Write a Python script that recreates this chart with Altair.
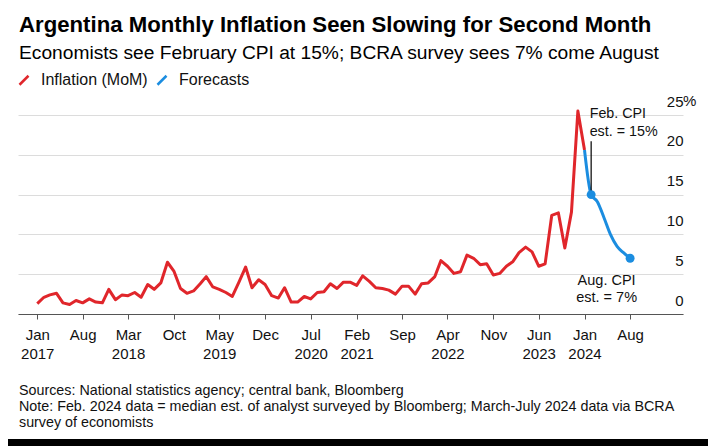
import altair as alt
import pandas as pd

TITLE = "Argentina Monthly Inflation Seen Slowing for Second Month"
SUBTITLE = "Economists see February CPI at 15%; BCRA survey sees 7% come August"
FOOTER = [
    "Sources: National statistics agency; central bank, Bloomberg",
    "Note: Feb. 2024 data = median est. of analyst surveyed by Bloomberg; March-July 2024 data via BCRA",
    "survey of economists",
]
SERIES = ["Inflation (MoM)", "Forecasts"]
COLORS = ["#e0262b", "#1b8de0"]

# Monthly CPI change (%), Jan 2017 .. Jan 2024
inflation_start = "2017-01-01"
inflation = [
    1.3, 2.1, 2.4, 2.6, 1.4, 1.2, 1.7, 1.4, 1.9, 1.5, 1.4, 3.1,
    1.8, 2.4, 2.3, 2.7, 2.1, 3.7, 3.1, 3.9, 6.5, 5.4, 3.2, 2.6,
    2.9, 3.8, 4.7, 3.4, 3.1, 2.7, 2.2, 4.0, 5.9, 3.3, 4.3, 3.7,
    2.3, 2.0, 3.3, 1.5, 1.5, 2.2, 1.9, 2.7, 2.8, 3.8, 3.2, 4.0,
    4.0, 3.6, 4.8, 4.1, 3.3, 3.2, 3.0, 2.5, 3.5, 3.5, 2.5, 3.8,
    3.9, 4.7, 6.7, 6.0, 5.1, 5.3, 7.4, 7.0, 6.2, 6.3, 4.9, 5.1,
    6.0, 6.6, 7.7, 8.4, 7.8, 6.0, 6.3, 12.4, 12.7, 8.3, 12.8, 25.5,
    20.6,
]
# Forecasts, Jan 2024 .. Aug 2024
forecast_start = "2024-01-01"
forecast = [20.6, 15.0, 14.1, 12.1, 10.0, 8.5, 7.7, 7.0]

# Axis ticks
x_ticks = ["2017-01", "2017-08", "2018-03", "2018-10", "2019-05", "2019-12", "2020-07",
           "2021-02", "2021-09", "2022-04", "2022-11", "2023-06", "2024-01", "2024-08"]
x_ticks_with_year = ["2017-01", "2018-03", "2019-05", "2020-07", "2021-02", "2022-04",
                     "2023-06", "2024-01"]
y_ticks = [0, 5, 10, 15, 20, 25]

# Annotations
feb_label = ["Feb. CPI", "est. = 15%"]
aug_label = ["Aug. CPI", "est. = 7%"]

FONT = "Liberation Sans"

df_inf = pd.DataFrame({
    "date": pd.date_range(inflation_start, periods=len(inflation), freq="MS").strftime("%Y-%m-%d"),
    "value": inflation,
    "series": SERIES[0],
})
df_fc = pd.DataFrame({
    "date": pd.date_range(forecast_start, periods=len(forecast), freq="MS").strftime("%Y-%m-%d"),
    "value": forecast,
    "series": SERIES[1],
})
df_pts = df_fc[df_fc["date"].isin(["2024-02-01", "2024-08-01"])]

year_list = ",".join("'%s'" % t for t in x_ticks_with_year)
label_expr = ("[utcFormat(datum.value, '%b'), indexof([" + year_list +
              "], utcFormat(datum.value, '%Y-%m')) >= 0 ? utcFormat(datum.value, '%Y') : '']")

x_scale = alt.Scale(type="utc", nice=False,
                    domain=[alt.DateTime(year=2016, month=10, date=3, utc=True),
                            alt.DateTime(year=2025, month=4, date=5, utc=True)])
x_axis = alt.Axis(
    values=[alt.DateTime(year=int(t[:4]), month=int(t[5:]), date=1, utc=True) for t in x_ticks],
    labelExpr=label_expr, title=None, grid=False, domainColor="#555555", tickColor="#555555",
    tickSize=5, labelFontSize=15, labelFont=FONT, labelColor="#111111", labelPadding=8,
    labelLineHeight=19.5, labelOverlap=False, labelFlush=False,
)
y_scale = alt.Scale(domain=[0, 25], nice=False)
y_axis = alt.Axis(
    orient="right", values=y_ticks, grid=True, gridColor="#dcdcdc", gridWidth=1, domain=False,
    ticks=False, tickSize=0, labelAlign="right", labelBaseline="alphabetic", labelOffset=-9,
    labelPadding=0, labelFontSize=15, labelFont=FONT, labelColor="#111111", title=None,
)


def X(field="date"):
    return alt.X(field + ":T", scale=x_scale, axis=x_axis)


def Y(field="value"):
    return alt.Y(field + ":Q", scale=y_scale, axis=y_axis)


color = alt.Color(
    "series:N", scale=alt.Scale(domain=SERIES, range=COLORS),
    legend=alt.Legend(
        title=None, orient="none", legendX=-2, legendY=-43, direction="horizontal",
        symbolType="M-1,1L1,-1", symbolSize=81, symbolStrokeWidth=2.5,
        labelFontSize=16, labelFont=FONT, labelColor="#111111", labelOffset=9,
        columnPadding=4, padding=0,
    ),
)

one = pd.DataFrame({"a": [0]})

# outer black frame (bottom edge of the window)
border_b = alt.Chart(one).mark_rect(color="black").encode(
    x=alt.value(-10), x2=alt.value(690), y=alt.value(324), y2=alt.value(335))

red = alt.Chart(df_inf).mark_line(strokeWidth=3, strokeJoin="round").encode(x=X(), y=Y(), color=color)
blue = alt.Chart(df_fc).mark_line(strokeWidth=3, strokeJoin="round", interpolate="monotone").encode(
    x=X(), y=Y(), color=color)
pts = alt.Chart(df_pts).mark_circle(size=80, opacity=1, color=COLORS[1]).encode(x=X(), y=Y())

rule_df = pd.DataFrame({"date": ["2024-02-01"], "value": [15.0], "value2": [21.7]})
rule = alt.Chart(rule_df).mark_rule(color="black", strokeWidth=1.2).encode(
    x=X(), y=Y(), y2="value2:Q")

feb_df = pd.DataFrame({"date": ["2024-02-01"], "value": [24.67]})
feb_txt = alt.Chart(feb_df).mark_text(
    text=feb_label, align="left", baseline="alphabetic", fontSize=14.3, lineHeight=18,
    font=FONT, color="#111111", dx=-1.5).encode(x=X(), y=Y())

aug_df = pd.DataFrame({"date": ["2024-08-01"], "value": [3.63]})
aug_txt = alt.Chart(aug_df).mark_text(
    text=aug_label, align="center", baseline="alphabetic", fontSize=14.5, lineHeight=17,
    font=FONT, color="#111111", dx=-23.5).encode(x=X(), y=Y())

pct_df = pd.DataFrame({"value": [25]})
pct = alt.Chart(pct_df).mark_text(
    text="%", align="left", baseline="alphabetic", fontSize=15, font=FONT, color="#111111",
    dy=-9).encode(x=alt.value(665), y=Y())

title = alt.Chart(one).mark_text(
    text=TITLE, align="left", baseline="alphabetic", fontSize=22.2, fontWeight="bold",
    font=FONT, color="#000000").encode(x=alt.value(1), y=alt.value(-82.6))
subtitle = alt.Chart(one).mark_text(
    text=SUBTITLE, align="left", baseline="alphabetic", fontSize=19.2,
    font=FONT, color="#000000").encode(x=alt.value(1), y=alt.value(-55.7))
footer = alt.Chart(one).mark_text(
    text=FOOTER, align="left", baseline="alphabetic", fontSize=14.3, lineHeight=16,
    font=FONT, color="#111111").encode(x=alt.value(1), y=alt.value(279.5))

chart = alt.layer(
    red, blue, rule, pts, feb_txt, aug_txt, pct, title, subtitle, footer, border_b
).properties(
    width=665, height=199,
    autosize=alt.AutoSizeParams(type="none"),
    padding={"left": 10, "right": 25, "top": 107, "bottom": 132},
    background="white",
).configure_view(strokeWidth=0)

chart.save("out.html", embed_options={"renderer": "svg", "actions": False})
